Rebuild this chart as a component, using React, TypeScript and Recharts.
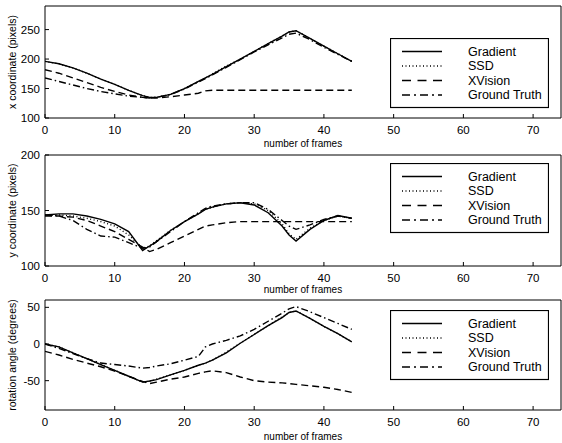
import React from 'react';
import { LineChart, Line, XAxis, YAxis, Legend, Label } from 'recharts';

const FONT = '"Liberation Sans", Arial, Helvetica, sans-serif';

// frame numbers shared by all series
const frames = [0, 2, 4, 6, 8, 10, 12, 14, 15, 16, 18, 20, 22, 23, 24, 26, 28, 30, 32, 34, 35, 36, 38, 40, 42, 44];

// Panel 1: x coordinate (pixels)
const xGradient = [196, 192, 185, 176, 166, 157, 147, 138, 135, 135, 140, 150, 162, 168, 174, 187, 200, 213, 226, 239, 246, 248, 235, 222, 209, 196];
const xSSD = [196, 192, 185, 176, 166, 157, 147, 138, 135, 135, 140, 150, 162, 168, 175, 188, 200, 213, 226, 239, 246, 248, 235, 222, 209, 196];
const xXVision = [182, 176, 168, 160, 152, 145, 139, 135, 134, 134, 136, 139, 142, 146, 147, 147, 147, 147, 147, 147, 147, 147, 147, 147, 147, 147];
const xTruth = [168, 162, 156, 150, 145, 141, 137, 135, 134, 135, 140, 149, 161, 167, 173, 186, 199, 212, 224, 236, 242, 244, 233, 220, 208, 196];

// Panel 2: y coordinate (pixels)
const yGradient = [146, 147, 147, 145, 142, 138, 131, 114, 118, 122, 132, 140, 147, 151, 153, 156, 157, 155, 148, 136, 128, 122.5, 133, 141, 145.5, 143];
const ySSD = [146, 146, 145, 143, 140, 136, 128, 116, 118, 123, 132, 140, 147, 151, 153, 156, 157, 156, 150, 138, 129, 124, 134, 141, 145, 143];
const yXVision = [145, 145, 144, 141, 136, 131, 124, 117, 113, 115, 121, 127, 133, 136, 137, 139, 140, 140, 140, 140, 140, 140, 140, 140, 140, 140];
const yTruth = [146, 145, 141, 133, 127, 126, 121, 116, 117, 122, 131, 140, 148, 152, 154, 156, 157, 157, 151, 141, 136, 133, 137, 142, 145, 143];

// Panel 3: rotation angle (degrees)
const rGradient = [0, -4, -12, -20, -28, -36, -44, -52, -50.5, -48.5, -42, -36, -29, -26, -22, -12, 1, 13, 25, 36, 43, 45, 35, 24, 14, 3];
const rSSD = [0, -4, -12, -20, -28, -36, -44, -52, -51, -48, -42, -36, -29, -26, -22, -11, 1, 13, 25, 37, 43, 45, 35, 24, 14, 3];
const rXVision = [-10, -15, -21, -26, -31, -37, -44, -51, -54, -52, -48, -45, -40, -38, -36.5, -39, -45, -50, -52, -53, -54, -55, -57, -59, -62, -66];
const rTruth = [0, -6, -13, -20, -26, -28, -30, -33, -32, -30, -27, -22, -17, -4, 0, 5, 11, 20, 31, 42, 48, 51, 44, 36, 28, 20];

const seriesNames = ['Gradient', 'SSD', 'XVision', 'Ground Truth'];
const seriesKeys = ['grad', 'ssd', 'xv', 'gt'];
const seriesDash = ['', '1 2.5', '7 4', '7 3 1.5 3'];
const legendDash = ['', '1 2.5', '9 6.5', '8 4 2 4'];

const xTicks = [0, 10, 20, 30, 40, 50, 60, 70];
const xDomain = [0, 74];
const yTicks1 = [100, 150, 200, 250];
const yTicks2 = [100, 150, 200];
const yTicks3 = [-50, 0, 50];

function buildRows(a: number[], b: number[], c: number[], d: number[]) {
  return frames.map((f, i) => ({ frame: f, grad: a[i], ssd: b[i], xv: c[i], gt: d[i] }));
}

const LegendBox = () => (
  <svg width={159} height={71} style={{ display: 'block' }}>
    <rect x={0.5} y={0.5} width={158} height={69} fill="#fff" stroke="#000" strokeWidth={1.2} />
    {seriesNames.map((n, i) => (
      <g key={n}>
        <line x1={12} x2={52} y1={13.5 + 14.5 * i} y2={13.5 + 14.5 * i} stroke="#000" strokeWidth={1.3}
          strokeDasharray={legendDash[i] || undefined} />
        <text x={78} y={13.5 + 14.5 * i} dominantBaseline="central" fontSize={12.5} fontFamily={FONT} fill="#000">{n}</text>
      </g>
    ))}
  </svg>
);

type PanelProps = {
  rows: any[];
  chartTop: number;
  height: number;
  plotTop: number;
  plotBottom: number;
  yDomain: number[];
  yTicks: number[];
  yLabel: string;
  legendTop: number;
  xLabelOffset: number;
};

function Panel({ rows, chartTop, height, plotTop, plotBottom, yDomain, yTicks, yLabel, legendTop, xLabelOffset }: PanelProps) {
  const bottomH = chartTop + height - plotBottom;
  const tickStyle = { fill: '#000', fontSize: 11.5, fontFamily: FONT };
  return (
    <div style={{ position: 'absolute', left: 0, top: chartTop, width: 562, height }}>
      <LineChart width={562} height={height} data={rows}
        margin={{ top: plotTop - chartTop - 1, right: 0, bottom: 0, left: 0 }}
        style={{ fontFamily: FONT }}>
        <XAxis xAxisId="b" dataKey="frame" type="number" domain={xDomain} ticks={xTicks} interval={0}
          allowDataOverflow height={bottomH} stroke="#000" tickSize={-4} tickMargin={11.5} tick={tickStyle}>
          <Label value="number of frames" position="insideBottom" offset={xLabelOffset} fontSize={10} fill="#000" fontFamily={FONT} />
        </XAxis>
        <XAxis xAxisId="t" orientation="top" dataKey="frame" type="number" domain={xDomain} ticks={xTicks} interval={0}
          allowDataOverflow height={1} stroke="#000" tickSize={-4} tick={false} />
        <YAxis yAxisId="l" type="number" domain={yDomain} ticks={yTicks} interval={0} allowDataOverflow
          width={45} stroke="#000" tickSize={-4} tickMargin={9} tick={tickStyle}>
          <Label value={yLabel} angle={-90} position="insideLeft" offset={12} fontSize={10.5} fill="#000"
            fontFamily={FONT} style={{ textAnchor: 'middle' }} />
        </YAxis>
        <YAxis yAxisId="r" orientation="right" type="number" domain={yDomain} ticks={yTicks} interval={0} allowDataOverflow
          width={1} stroke="#000" tickSize={-4} tick={false} />
        {[3, 2, 1, 0].map((i) => (
          <Line key={seriesKeys[i]} xAxisId="b" yAxisId="l" dataKey={seriesKeys[i]} type="linear"
            stroke="#000" strokeWidth={1.4} strokeDasharray={seriesDash[i] || undefined}
            dot={false} activeDot={false} isAnimationActive={false} />
        ))}
        <Legend layout="horizontal" verticalAlign="middle" align="center"
          wrapperStyle={{ left: 390, top: legendTop - chartTop, width: 159, height: 71 }}
          content={() => <LegendBox />} />
      </LineChart>
    </div>
  );
}

export default function App() {
  return (
    <div style={{ position: 'absolute', left: 0, top: 0, width: 562, height: 443, background: '#fff' }}>
      <Panel rows={buildRows(xGradient, xSSD, xXVision, xTruth)} chartTop={0} height={150} plotTop={6} plotBottom={118}
        yDomain={[100, 290]} yTicks={yTicks1} yLabel="x coordinate (pixels)" legendTop={38} xLabelOffset={3.5} />
      <Panel rows={buildRows(yGradient, ySSD, yXVision, yTruth)} chartTop={150} height={145} plotTop={155} plotBottom={266}
        yDomain={[100, 200]} yTicks={yTicks2} yLabel="y coordinate (pixels)" legendTop={163} xLabelOffset={2.5} />
      <Panel rows={buildRows(rGradient, rSSD, rXVision, rTruth)} chartTop={295} height={148} plotTop={300} plotBottom={410}
        yDomain={[-90, 60]} yTicks={yTicks3} yLabel="rotation angle (degrees)" legendTop={310} xLabelOffset={3.5} />
    </div>
  );
}
